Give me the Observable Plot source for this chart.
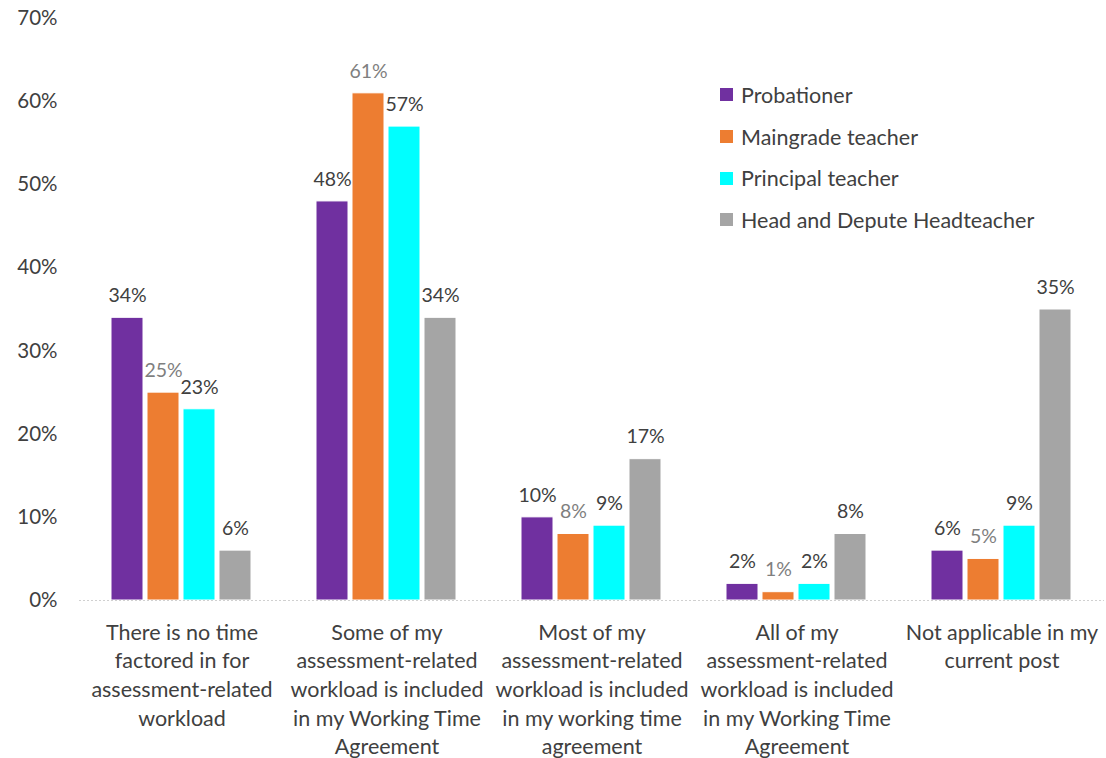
<!DOCTYPE html>
<html>
<head>
<meta charset="utf-8">
<script src="https://cdn.jsdelivr.net/npm/d3@7"></script>
<script src="https://cdn.jsdelivr.net/npm/@observablehq/plot@0.6"></script>
<style>
  html, body { margin: 0; padding: 0; background: #fff; }
  #wrap { position: relative; width: 1106px; height: 758px; font-family: Lato, "Open Sans", sans-serif; }
  #legend { position: absolute; left: 720px; top: 74px; font-size: 21.5px; color: #404040; }
  .item { display: flex; align-items: center; height: 41.7px; line-height: 26px; }
  .sw { width: 13px; height: 13px; margin-right: 8px; flex: none; }
</style>
</head>
<body>
<div id="wrap"><div id="chart"></div><div id="legend"></div></div>
<script>
const categories = [
  "There is no time factored in for assessment-related workload",
  "Some of my assessment-related workload is included in my Working Time Agreement",
  "Most of my assessment-related workload is included in my working time agreement",
  "All of my assessment-related workload is included in my Working Time Agreement",
  "Not applicable in my current post"
];
const categoryLines = [
  "There is no time\nfactored in for\nassessment-related\nworkload",
  "Some of my\nassessment-related\nworkload is included\nin my Working Time\nAgreement",
  "Most of my\nassessment-related\nworkload is included\nin my working time\nagreement",
  "All of my\nassessment-related\nworkload is included\nin my Working Time\nAgreement",
  "Not applicable in my\ncurrent post"
];
const series = ["Probationer", "Maingrade teacher", "Principal teacher", "Head and Depute Headteacher"];
const colors = ["#7030A0", "#ED7D31", "#00FFFF", "#A5A5A5"];
const labelColors = ["#404040", "#7f7f7f", "#404040", "#404040"];
const probationer = [34, 48, 10, 2, 6];
const maingrade = [25, 61, 8, 1, 5];
const principal = [23, 57, 9, 2, 9];
const head = [6, 34, 17, 8, 35];
const yTicks = [0, 10, 20, 30, 40, 50, 60, 70];

const valuesBySeries = [probationer, maingrade, principal, head];
const data = [];
categories.forEach((c, i) => {
  series.forEach((s, j) => {
    data.push({category: c, series: s, value: valuesBySeries[j][i], labelColor: labelColors[j]});
  });
});
const lineMap = new Map(categories.map((c, i) => [c, categoryLines[i]]));

const chart = Plot.plot({
  width: 1106,
  height: 758,
  marginTop: 18,
  marginBottom: 158,
  marginLeft: 77,
  marginRight: 0,
  style: {fontFamily: "Lato, 'Open Sans', sans-serif", background: "#fff"},
  fx: {domain: categories, padding: 0, label: null, axis: null},
  x: {domain: series, axis: null, paddingInner: 0.11, paddingOuter: 0.86},
  y: {domain: [0, 70], label: null, axis: null},
  color: {domain: series, range: colors},
  marks: [
    Plot.barY(data, {fx: "category", x: "series", y: "value", fill: "series", stroke: "white", strokeWidth: 1}),
    Plot.ruleY([0], {stroke: "#d0d0d0", strokeWidth: 1.2, strokeDasharray: "2,2"}),
    Plot.text(data, {fx: "category", x: "series", y: "value", text: d => d.value + "%", dy: -22, fill: "labelColor", fontSize: 19.5}),
    Plot.axisY({ticks: yTicks, tickFormat: d => d + "%", tickSize: 0, tickPadding: 22, fontSize: 20.5, fill: "#404040", label: null}),
    Plot.axisFx({anchor: "bottom", tickSize: 0, tickPadding: 19, fontSize: 21.5, lineHeight: 1.33, fill: "#404040", label: null,
      tickFormat: d => lineMap.get(d)})
  ]
});
document.getElementById("chart").appendChild(chart);

const legend = document.getElementById("legend");
series.forEach((s, i) => {
  const item = document.createElement("div");
  item.className = "item";
  const sw = document.createElement("span");
  sw.className = "sw";
  sw.style.background = colors[i];
  const t = document.createElement("span");
  t.textContent = s;
  item.appendChild(sw);
  item.appendChild(t);
  legend.appendChild(item);
});
</script>
</body>
</html>
